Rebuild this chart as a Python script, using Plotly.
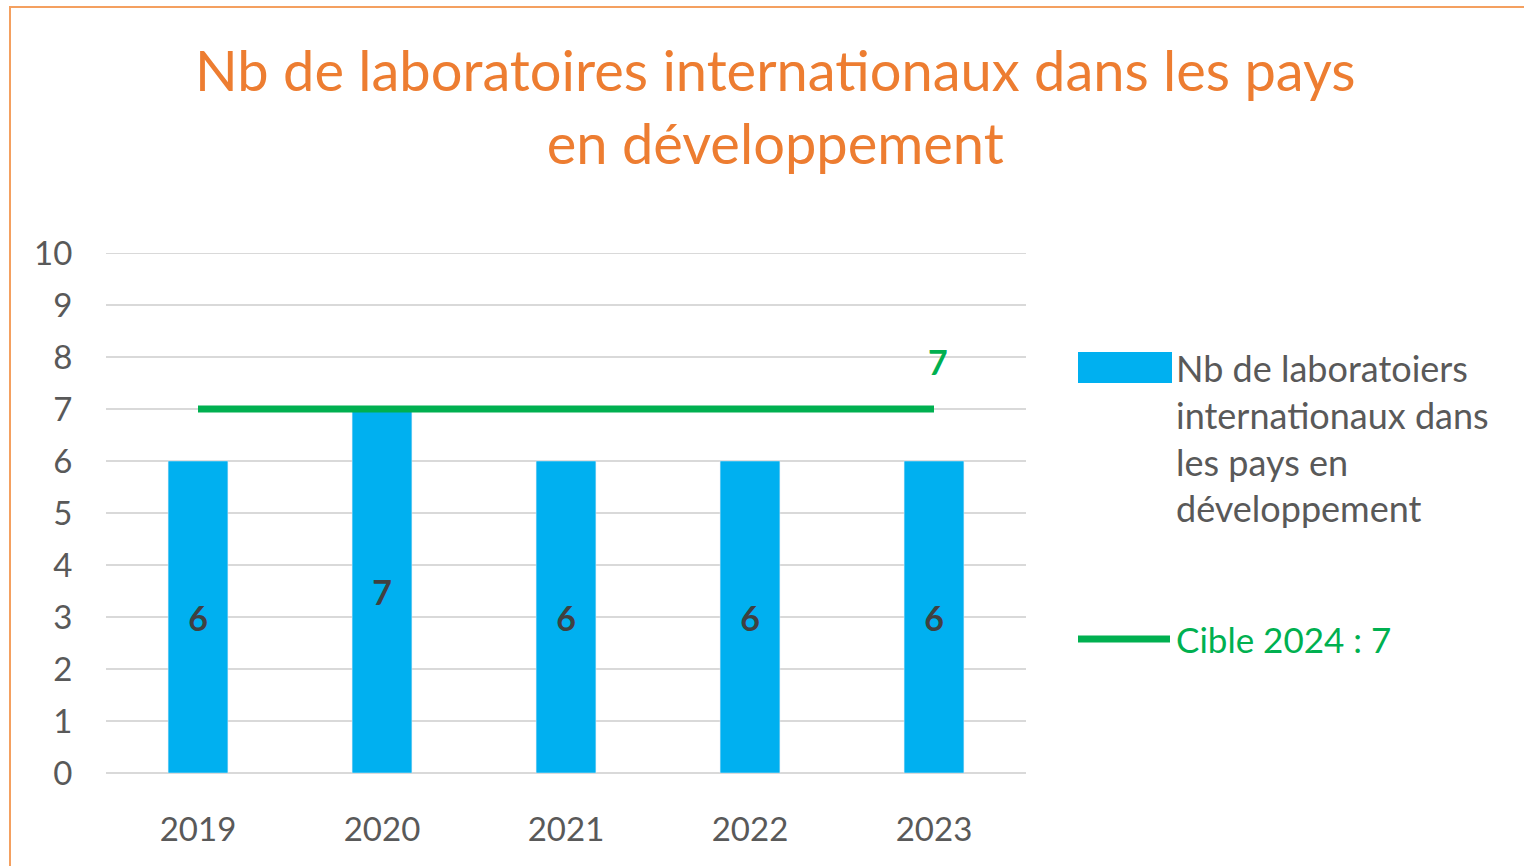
import plotly.graph_objects as go

# Data
years = ["2019", "2020", "2021", "2022", "2023"]
labs = [6, 7, 6, 6, 6]
target = [7, 7, 7, 7, 7]
target_label = "7"
bar_name = "Nb de laboratoiers internationaux dans les pays en développement"
bar_legend_lines = ["Nb de laboratoiers", "internationaux dans", "les pays en", "développement"]
target_name = "Cible 2024 : 7"
title_lines = ["Nb de laboratoires internationaux dans les pays", "en développement"]

BLUE = "#00B0F0"
GREEN = "#00B050"
ORANGE = "#ED7D31"
GREY = "#595959"
FONT = "Lato"

W, H = 1524, 866
L, R, T, B = 106, 1026, 253, 773


def px(x):
    return (x - L) / (R - L)


def py(y):
    return (B - y) / (B - T)


fig = go.Figure()
fig.add_trace(go.Bar(
    x=years, y=labs, name=bar_name, marker_color=BLUE,
    text=[str(v) for v in labs], textposition="inside",
    insidetextanchor="middle", textangle=0,
    textfont=dict(family=FONT, size=34, color="#404040", weight="bold"),
    showlegend=False,
))
fig.add_trace(go.Scatter(
    x=years, y=target, name=target_name, mode="lines",
    line=dict(color=GREEN, width=7),
    showlegend=False,
))

shapes = [
    # outer frame
    dict(type="rect", xref="paper", yref="paper",
         x0=px(10), x1=px(W + 20), y0=py(H + 20), y1=py(7),
         line=dict(color="#F4A060", width=2), fillcolor="rgba(0,0,0,0)", layer="below"),
    # top gridline at the axis maximum
    dict(type="line", xref="paper", yref="y", x0=0, x1=1, y0=10, y1=10,
         line=dict(color="#D9D9D9", width=2), layer="below"),
    # legend swatches
    dict(type="rect", xref="paper", yref="paper",
         x0=px(1078), x1=px(1172), y0=py(383), y1=py(352),
         line=dict(width=0), fillcolor=BLUE),
    dict(type="line", xref="paper", yref="paper",
         x0=px(1078), x1=px(1170), y0=py(639), y1=py(639),
         line=dict(color=GREEN, width=7)),
]

annotations = [
    dict(text="<br>".join(title_lines), xref="paper", yref="paper",
         x=px(775), y=py(106), xanchor="center", yanchor="middle",
         showarrow=False, align="center",
         font=dict(family=FONT, size=56, color=ORANGE)),
    # value label at the end of the target line
    dict(text=target_label, x=len(years) - 1, y=target[-1], xref="x", yref="y",
         showarrow=False, xshift=4, yshift=48, xanchor="center", yanchor="middle",
         font=dict(family=FONT, size=34, color=GREEN, weight="bold")),
    dict(text="<br>".join(bar_legend_lines), xref="paper", yref="paper",
         x=px(1174), y=py(438), xanchor="left", yanchor="middle",
         showarrow=False, align="left",
         font=dict(family=FONT, size=36, color=GREY)),
    dict(text=target_name, xref="paper", yref="paper",
         x=px(1174), y=py(639), xanchor="left", yanchor="middle",
         showarrow=False, align="left",
         font=dict(family=FONT, size=35, color=GREEN)),
]

fig.update_layout(
    width=W, height=H,
    margin=dict(l=L, r=W - R, t=T, b=H - B),
    paper_bgcolor="white", plot_bgcolor="white",
    bargap=0.675,
    showlegend=False,
    shapes=shapes, annotations=annotations,
    font=dict(family=FONT, color=GREY),
)
fig.update_xaxes(
    type="category", automargin=False,
    showgrid=False, showline=False, zeroline=False,
    ticks="outside", ticklen=27, tickcolor="rgba(0,0,0,0)",
    tickfont=dict(family=FONT, size=33, color=GREY),
)
fig.update_yaxes(
    automargin=False,
    range=[0, 10], dtick=1,
    showgrid=True, gridcolor="#D9D9D9", gridwidth=2,
    zeroline=True, zerolinecolor="#D9D9D9", zerolinewidth=2, showline=False,
    ticks="outside", ticklen=26, tickcolor="rgba(0,0,0,0)",
    tickfont=dict(family=FONT, size=33, color=GREY),
)

fig.write_html("out.html")
